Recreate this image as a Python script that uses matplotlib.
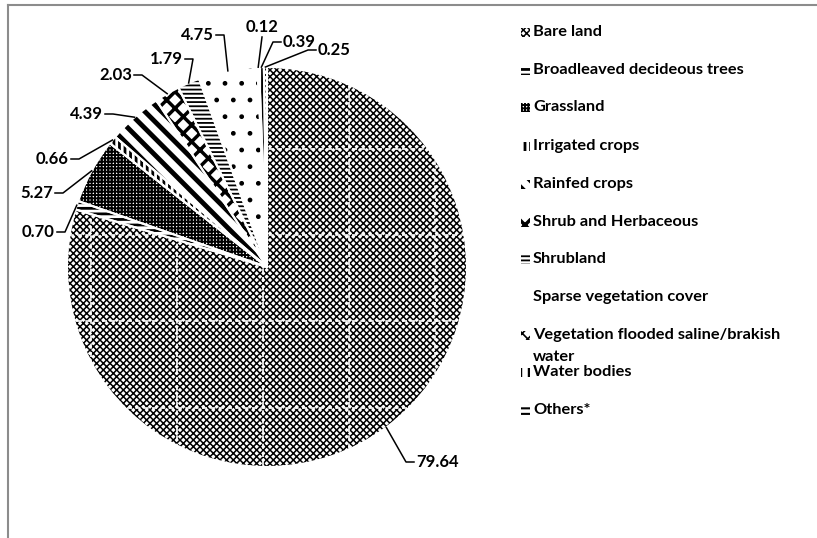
import matplotlib
matplotlib.use('Agg')
import matplotlib.pyplot as plt
from matplotlib.patches import Rectangle
from matplotlib.lines import Line2D
import numpy as np

# land cover shares (%), drawn clockwise from 12 o'clock
categories = ['Bare land', 'Broadleaved decideous trees', 'Grassland', 'Irrigated crops',
              'Rainfed crops', 'Shrub and Herbaceous', 'Shrubland', 'Sparse vegetation cover',
              'Vegetation flooded saline/brakish\nwater', 'Water bodies', 'Others*']
shares = [79.64, 0.70, 5.27, 0.66, 4.39, 2.03, 1.79, 4.75, 0.12, 0.39, 0.25]

# black & white pattern fills
hatches = ['xxxxx', '---', '+++++', '|||', '\\\\', 'xx', '----', '.', 'xxx', '||', '---']
hatch_lw = [1.1, 2.0, 1.4, 2.0, 3.5, 2.5, 1.3, 1.0, 1.2, 2.0, 1.5]

W, H = 817, 538
CX, CY, R = 267, 267, 200   # pie centre / radius in pixels

# label anchors (pixels) where the leader line meets the text
label_anchor = [(414, 462), (57, 232), (55, 193), (71, 159), (105, 114), (134, 75),
                (185, 59), (216, 35), (262, 37), (281, 42), (316, 50)]
label_ha = ['left', 'right', 'right', 'right', 'right', 'right',
            'right', 'right', 'center', 'left', 'left']
legend_y = [32, 70, 107, 146, 184, 222, 259, 297, 335, 372, 410]


def px(x, y):
    return (x - CX) / R, (CY - y) / R


plt.rcParams['font.family'] = ['Lato', 'DejaVu Sans']
fig = plt.figure(figsize=(W / 100, H / 100), dpi=100)
ax = fig.add_axes([0, 0, 1, 1])

wedges, _ = ax.pie(shares, startangle=90, counterclock=False, radius=1.0,
                   colors=['white'] * len(shares),
                   wedgeprops={'edgecolor': 'black', 'linewidth': 0})
for w, h, lw in zip(wedges, hatches, hatch_lw):
    w.set_hatch(h)
    if hasattr(w, 'set_hatch_linewidth'):
        w.set_hatch_linewidth(lw)

# white separators between slices
ax.pie(shares, startangle=90, counterclock=False, radius=1.0,
       wedgeprops={'fill': False, 'edgecolor': 'white', 'linewidth': 1.5})

# faint white dashed grid seen through the bare land fill
for gx in [91, 177, 263, 349, 435]:
    ln, = ax.plot([px(gx, 0)[0]] * 2, [-1.2, 1.2], color='white', lw=1.2, dashes=(3, 2))
    ln.set_clip_path(wedges[0])
for gy in [149, 235, 321, 408]:
    ln, = ax.plot([-1.2, 1.2], [px(0, gy)[1]] * 2, color='white', lw=1.2, dashes=(3, 2))
    ln.set_clip_path(wedges[0])

# value labels with leader lines
for w, val, (axp, ayp), ha in zip(wedges, shares, label_anchor, label_ha):
    mid = np.deg2rad((w.theta1 + w.theta2) / 2)
    tip = (np.cos(mid), np.sin(mid))
    if ha == 'left':
        elbow = px(axp - 8, ayp)
        tx, va = px(axp + 2, ayp), 'center'
    elif ha == 'right':
        elbow = px(axp + 8, ayp)
        tx, va = px(axp - 2, ayp), 'center'
    else:
        elbow = px(axp, ayp)
        tx, va = px(axp, ayp - 2), 'bottom'
    a = px(axp, ayp)
    ax.plot([tip[0], elbow[0], a[0]], [tip[1], elbow[1], a[1]], color='black', lw=1.1)
    ax.text(tx[0], tx[1], f'{val:.2f}', ha=ha, va=va, fontsize=12, fontweight='bold')

ax.set_xlim(-CX / R, (W - CX) / R)
ax.set_ylim((CY - H) / R, CY / R)
ax.set_aspect('equal')
ax.axis('off')

# legend drawn by hand to keep Excel's even spacing
for lab, h, lw, y in zip(categories, hatches, hatch_lw, legend_y):
    box = Rectangle((521 / W, 1 - (y + 4.5) / H), 9 / W, 9 / H, transform=fig.transFigure,
                    facecolor='white', edgecolor='black', linewidth=0, hatch=h)
    if hasattr(box, 'set_hatch_linewidth'):
        box.set_hatch_linewidth(lw)
    fig.add_artist(box)
    for i, line in enumerate(lab.split('\n')):
        fig.text(533 / W, 1 - (y + i * 22) / H, line, ha='left', va='center',
                 fontsize=11.8, fontweight='bold')

# chart-area border (cropped)
fig.add_artist(Line2D([8 / W, 1], [1 - 5 / H] * 2, transform=fig.transFigure,
                      color='#8c8c8c', lw=1.5))
fig.add_artist(Line2D([8 / W] * 2, [0, 1 - 5 / H], transform=fig.transFigure,
                      color='#8c8c8c', lw=1.5))

fig.savefig('out.png', dpi=100)
